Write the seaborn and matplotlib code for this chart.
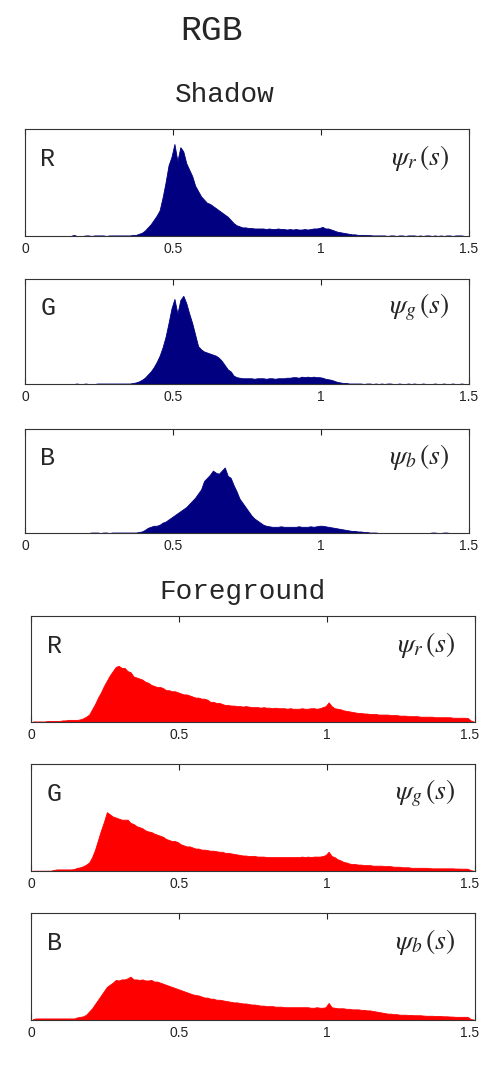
import numpy as np
import pandas as pd
import matplotlib
matplotlib.use("Agg")
import matplotlib.pyplot as plt
import matplotlib.transforms as mtransforms
import seaborn as sns

# histogram heights (percent of panel height), one value per 0.01 bin on [0, 1.5)
sh_r = [0, 0, 0, 0, 0, 0, 0, 0, 0, 0,
        0, 0, 0, 0, 0, 0, 1, 0, 0, 0,
        0.5, 0.5, 0, 0.5, 0.5, 0.5, 0.5, 0, 0.5, 0.5,
        0.5, 0.5, 0.5, 0.5, 0.5, 0.5, 1, 1, 2, 3,
        5, 8, 11, 15, 19, 24, 36, 50, 66, 74,
        86, 70, 83, 79, 68, 62, 56, 47, 42, 37,
        34, 31, 30, 28, 26, 24, 22, 20, 18, 15,
        12, 10, 9, 8, 8, 7.5, 7.5, 7, 7, 7,
        7, 6.5, 7, 6.5, 6.5, 7, 6.5, 6.5, 6, 6.5,
        6, 6.5, 6, 6, 6.5, 6, 6.5, 7, 7, 7.5,
        8.5, 7, 7, 6, 5, 4, 3.5, 3, 2.5, 2,
        1.5, 1.5, 1, 1, 1, 0.8, 0.8, 0.5, 0.5, 0.5,
        0.5, 0.5, 0, 0.5, 0.5, 0, 0.5, 0.5, 0, 0.5,
        0.5, 0.5, 0, 0.5, 0, 0.5, 0.5, 0, 0.5, 0,
        0.5, 0, 0.5, 0.5, 0, 0.5, 0.5, 0.5, 0, 0]

sh_g = [0, 0, 0, 0, 0, 0, 0, 0, 0, 0,
        0, 0, 0, 0, 0, 0, 0, 0.5, 0, 0,
        0.5, 0, 0, 0, 0.5, 0.5, 0.5, 0.5, 0.5, 0.5,
        0.5, 0.5, 0.5, 0.5, 0.5, 0.5, 1, 1.5, 2.5, 4,
        6, 9, 12, 16, 21, 27, 35, 45, 58, 72,
        81, 67, 80, 84, 77, 67, 58, 47, 36, 33,
        31, 30, 29, 28, 27, 25, 22, 18, 14, 12,
        8, 6.5, 6, 5.5, 5.5, 5.5, 5.5, 5, 5.5, 5.5,
        5.5, 5, 5.5, 5.5, 5, 5.5, 5.5, 5.5, 6, 6,
        6.5, 6.5, 6, 7, 6.5, 7, 6.5, 7, 6.5, 6.5,
        6, 5, 4.5, 4, 3, 2, 1.5, 1, 1, 0.5,
        0.5, 0.5, 0.5, 0.5, 0, 0.5, 0.5, 0, 0.5, 0,
        0.5, 0, 0.5, 0.5, 0, 0, 0.5, 0, 0, 0.5,
        0, 0.5, 0, 0, 0.5, 0, 0, 0, 0.5, 0,
        0, 0.5, 0, 0, 0.5, 0, 0, 0.5, 0, 0]

sh_b = [0, 0, 0, 0, 0, 0, 0, 0, 0, 0,
        0, 0, 0, 0, 0, 0, 0, 0, 0, 0,
        0, 0, 0.5, 0.5, 0.5, 0, 0.5, 0.5, 0, 0.5,
        0.5, 0.5, 0.5, 0.5, 0.5, 0.5, 0.5, 0.5, 1, 1.5,
        3, 5, 6, 7, 7, 8, 10, 11, 13, 15,
        17, 19, 21, 23, 25, 28, 31, 34, 38, 42,
        50, 53, 56, 60, 58, 57, 60, 63, 55, 53,
        46, 40, 33, 29, 25, 21, 17, 14, 12, 10,
        8, 7, 6.5, 6, 6, 6, 6.5, 6, 6, 6,
        6, 6, 6.5, 6, 6, 6, 6.5, 6, 6.5, 7,
        7, 6.5, 6, 5.5, 5, 4.5, 4, 3.5, 3, 2.5,
        2, 2, 1.5, 1.5, 1, 1, 0.5, 0.5, 0.5, 0,
        0, 0, 0, 0, 0, 0, 0, 0, 0, 0,
        0, 0, 0, 0, 0, 0, 0, 0.5, 0.5, 0,
        0, 0.5, 0.5, 0, 0, 0, 0, 0, 0, 0]

fg_r = [0.5, 0.5, 0.5, 0.5, 0.5, 1, 1, 1, 1, 1,
        1.5, 1.5, 2, 2, 2, 2, 2.5, 3.5, 5, 7,
        12, 17, 23, 28, 34, 39, 44, 48, 52, 53,
        51, 51, 48, 47, 43, 42, 41, 40, 38, 37,
        35, 34, 33, 33, 32, 30, 30, 29, 29, 28,
        27, 26, 26, 25, 24, 23, 23, 22, 22, 21,
        19, 19, 18, 18, 17, 16, 16, 15.5, 15.5, 15,
        15, 14.5, 15, 14.5, 14, 14, 14, 13.5, 14, 13.5,
        13.5, 13, 13.5, 13, 13, 13, 12.5, 13, 12.5, 12.5,
        12.5, 13, 12.5, 12.5, 13, 13, 12.5, 13, 14, 15,
        18.5, 15, 13, 12.5, 12, 11, 10.5, 10, 9.5, 9,
        8.5, 8.5, 8, 8, 7.5, 7.5, 7.5, 7, 7, 7,
        7, 6.5, 6.5, 6.5, 6, 6, 6, 5.5, 5.5, 5.5,
        5.5, 5, 5, 5, 5, 5, 4.5, 4.5, 4.5, 4.5,
        4.5, 4.5, 4, 4, 4, 4, 4, 3.8, 1.5, 0.5]

fg_g = [0.3, 0.3, 0.3, 0.3, 0.3, 0.3, 0.3, 1, 1.5, 1.5,
        1.5, 1.5, 1.5, 1.5, 2, 3, 3.5, 4.5, 6, 8,
        13, 20, 29, 38, 46, 55, 53, 51, 50, 49,
        48, 48, 48, 45, 44, 42, 41, 40, 38, 37,
        36.5, 35, 34, 33, 32, 30, 29, 28, 28, 27,
        25, 24, 23, 23, 22, 21, 21, 20, 20, 19.5,
        19, 19, 18.5, 18, 18, 17, 17, 16.5, 16, 15.5,
        15, 14.5, 14.5, 14, 14, 14, 13.5, 13.5, 13.5, 13,
        13, 13, 13, 13, 13, 13, 13, 13, 13, 13,
        13, 13.5, 13, 13.5, 13, 13.5, 13.5, 13.5, 14, 15,
        18, 14, 13, 11, 10, 8.5, 8, 7, 6.5, 6.5,
        6, 6, 5.5, 5.5, 5.5, 5, 5, 5, 5, 4.5,
        4.7, 4.5, 4, 4, 4, 3.5, 3.5, 3.5, 3, 3,
        3, 3, 3, 3, 2.7, 2.5, 2.5, 2.5, 2.5, 2.5,
        2.5, 2.5, 2.5, 2.3, 2.3, 2.2, 2.2, 2.2, 0.8, 0.3]

fg_b = [1, 1.5, 1.5, 1.5, 1.5, 1.5, 1.5, 1.5, 1.5, 1.5,
        1.5, 1.5, 1.5, 1.5, 1.5, 2.5, 3, 3.5, 5, 8,
        11, 15, 19, 23, 27, 31, 33, 35, 37.5, 37,
        38, 38, 39, 40.6, 38, 38, 37.5, 38, 37, 37,
        37.5, 36, 36, 35, 34, 33, 32, 31, 30, 29,
        28, 27, 26, 25, 24, 23.4, 23, 22, 21, 21,
        20, 20, 19, 19, 18.5, 18, 17.5, 17, 16.5, 16.5,
        16, 15.5, 15.5, 15, 14.5, 14.5, 14, 13.5, 13.5, 13,
        13, 13, 12.5, 12.5, 12.5, 12, 12, 12, 12, 12,
        12, 12, 12, 12, 11.5, 11.5, 12, 11.5, 11.5, 12,
        16, 12, 11.5, 11, 11, 11, 10.5, 10.5, 10, 10,
        10, 9.5, 9.5, 9, 9, 8.4, 8, 7.5, 7, 6.5,
        6, 6, 5.5, 5.5, 5, 5, 5, 4.7, 4.7, 4.5,
        4.5, 4.5, 4.2, 4, 4, 4, 3.8, 3.7, 3.7, 3.5,
        3.5, 3.3, 3.2, 3, 3, 3, 3, 3, 1, 0.5]

channels = ['R', 'G', 'B']
psi_labels = [r'$\psi_{r}\,(s)$', r'$\psi_{g}\,(s)$', r'$\psi_{b}\,(s)$']
tick_vals = [0, 0.5, 1, 1.5]
tick_labels = ['0', '0.5', '1', '1.5']

bin_w = 0.01
centers = np.arange(150) * bin_w + bin_w / 2

sns.set_style('white')
plt.rcParams['mathtext.fontset'] = 'stix'
plt.rcParams['font.family'] = ['Liberation Sans', 'DejaVu Sans']

fig = plt.figure(figsize=(4.8, 10.76), dpi=100)

# panel rectangles in figure fractions (left, bottom, width, height)
shadow_pos = [(0.052, 0.7807, 0.925, 0.0994),
              (0.052, 0.6431, 0.925, 0.0976),
              (0.052, 0.5046, 0.925, 0.0967)]
fore_pos = [(0.0656, 0.3290, 0.924, 0.0985),
            (0.0656, 0.1905, 0.924, 0.0994),
            (0.0656, 0.0520, 0.924, 0.0994)]

groups = [(shadow_pos, [sh_r, sh_g, sh_b], '#000080', 0),
          (fore_pos, [fg_r, fg_g, fg_b], '#ff0000', -5)]

for positions, series, color, last_shift in groups:
    for pos, vals, ch, psi in zip(positions, series, channels, psi_labels):
        ax = fig.add_axes(pos)
        df = pd.DataFrame({'s': centers, 'h': vals})
        sns.histplot(data=df, x='s', weights='h', binwidth=bin_w, binrange=(0, 1.5),
                     element='poly', fill=True, color=color, alpha=1,
                     linewidth=0.6, ax=ax)
        ax.set_xlim(0, 1.5)
        ax.set_ylim(0, 100)
        ax.set_ylabel('')
        ax.set_xlabel('')
        ax.set_yticks([])
        ax.set_xticks(tick_vals)
        ax.set_xticklabels(tick_labels, fontsize=10)
        ax.tick_params(axis='x', direction='in', length=4, width=0.8,
                       top=True, bottom=True, pad=4, colors='#222222')
        # keep the last label inside the picture
        if last_shift:
            lbl = ax.get_xticklabels()[-1]
            lbl.set_transform(lbl.get_transform() + mtransforms.ScaledTranslation(
                last_shift / 100, 0, fig.dpi_scale_trans))
        for sp in ax.spines.values():
            sp.set_color('#333333')
            sp.set_linewidth(0.8)
        ax.text(0.035, 0.72, ch, transform=ax.transAxes, fontsize=18,
                family='Liberation Mono', ha='left', va='center')
        ax.text(0.955, 0.73, psi, transform=ax.transAxes, fontsize=20,
                ha='right', va='center')

fig.text(212 / 480, 1 - 30 / 1076, 'RGB', fontsize=25, family='Liberation Mono',
         ha='center', va='center')
fig.text(225 / 480, 1 - 95 / 1076, 'Shadow', fontsize=20, family='Liberation Mono',
         ha='center', va='center')
fig.text(242 / 480, 1 - 592 / 1076, 'Foreground', fontsize=20, family='Liberation Mono',
         ha='center', va='center')

fig.savefig('out.png', dpi=100)
